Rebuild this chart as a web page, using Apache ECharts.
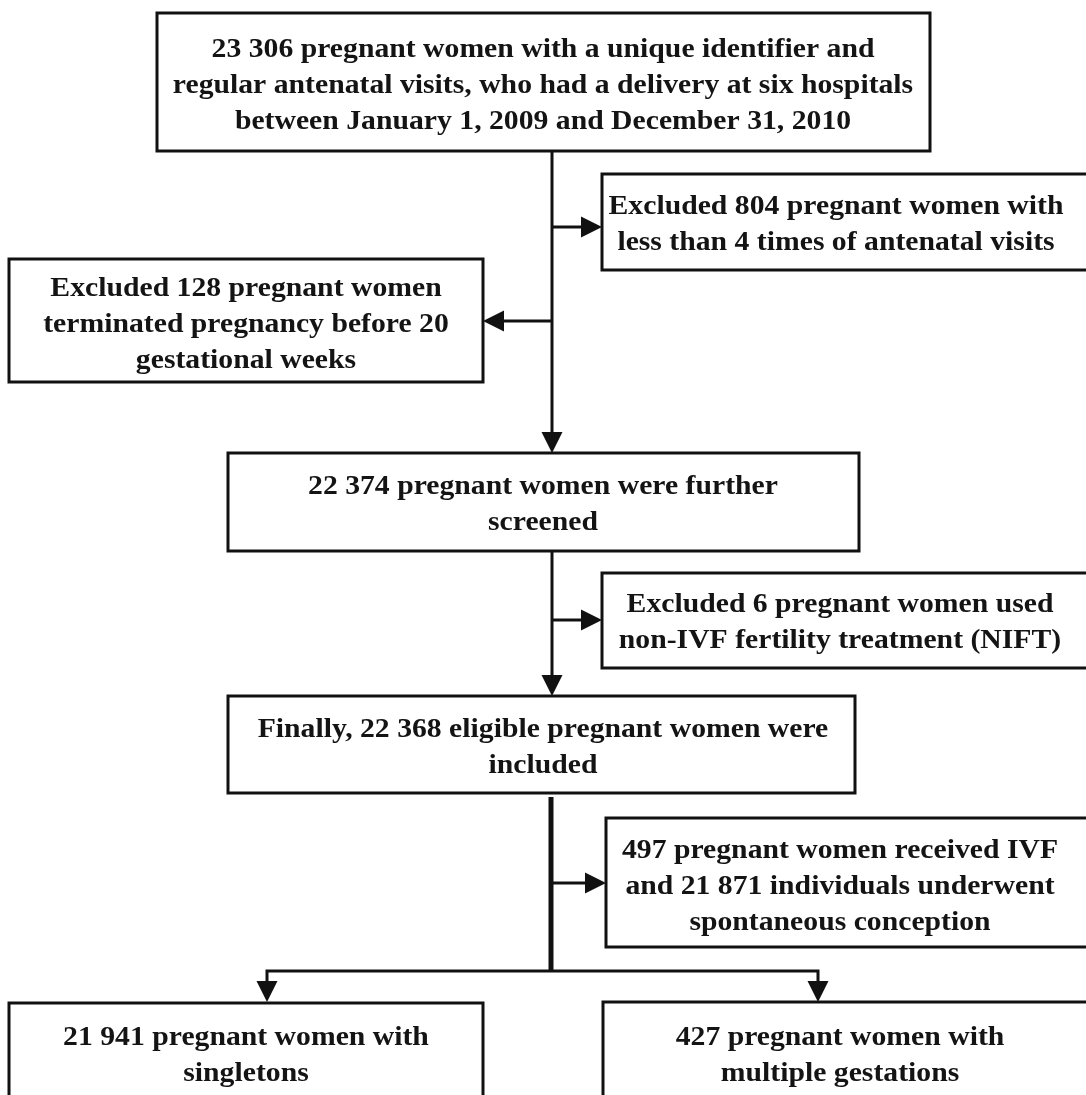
<!DOCTYPE html>
<html lang="en">
<head>
    <meta charset="UTF-8">
    <title>Flow chart</title>
    <script src="https://cdn.jsdelivr.net/npm/echarts@6/dist/echarts.min.js"></script>
    <style>
        html, body { margin: 0; padding: 0; background: #fff; }
        #container { width: 1086px; height: 1095px; }
    </style>
</head>
<body>
<div id="container"></div>
<script>
    // box texts
    var boxTexts = [
        '23 306 pregnant women with a unique identifier and\nregular antenatal visits, who had a delivery at six hospitals\nbetween January 1, 2009 and December 31, 2010',
        'Excluded 804 pregnant women with\nless than 4 times of antenatal visits',
        'Excluded 128 pregnant women\nterminated pregnancy before 20\ngestational weeks',
        '22 374 pregnant women were further\nscreened',
        'Excluded 6 pregnant women used\nnon-IVF fertility treatment (NIFT)',
        'Finally, 22 368 eligible pregnant women were\nincluded',
        '497 pregnant women received IVF\nand 21 871 individuals underwent\nspontaneous conception',
        '21 941 pregnant women with\nsingletons',
        '427 pregnant women with\nmultiple gestations'
    ];

    // layout: [x0, y0, x1, y1, textX, textY] in page pixels, same order as boxTexts
    var boxLayout = [
        [157, 13, 930, 151, 543, 86],
        [602, 174, 1092, 270, 836, 225],
        [9, 259, 483, 382, 246, 325],
        [228, 453, 859, 551, 543, 505],
        [602, 573, 1092, 668, 840, 623],
        [228, 696, 855, 793, 543, 748],
        [606, 818, 1092, 947, 840, 887],
        [9, 1003, 483, 1120, 246, 1056],
        [603, 1002, 1092, 1120, 840, 1056]
    ];

    // connectors: points, line width, arrow at end
    var links = [
        {pts: [[552, 151], [552, 453]], w: 3, arrow: true},
        {pts: [[552, 227], [602, 227]], w: 3, arrow: true},
        {pts: [[552, 321], [483, 321]], w: 3, arrow: true},
        {pts: [[552, 551], [552, 696]], w: 3, arrow: true},
        {pts: [[552, 620], [602, 620]], w: 3, arrow: true},
        {pts: [[551, 797], [551, 972]], w: 5, arrow: false},
        {pts: [[551, 883], [606, 883]], w: 3, arrow: true},
        {pts: [[552, 971], [267, 971], [267, 1002]], w: 3, arrow: true},
        {pts: [[552, 971], [818, 971], [818, 1002]], w: 3, arrow: true}
    ];

    var ink = '#111';
    var font = 'bold 27px "Liberation Serif", "Times New Roman", serif';

    var chart = echarts.init(document.getElementById('container'));

    function renderBox(params, api) {
        var b = boxLayout[params.dataIndex];
        var p0 = api.coord([b[0], b[1]]);
        var p1 = api.coord([b[2], b[3]]);
        var pt = api.coord([b[4], b[5]]);
        return {
            type: 'group',
            children: [{
                type: 'rect',
                shape: {x: p0[0], y: p0[1], width: p1[0] - p0[0], height: p1[1] - p0[1]},
                style: {fill: '#fff', stroke: ink, lineWidth: 3}
            }, {
                type: 'text',
                x: pt[0],
                y: pt[1],
                scaleX: 1.1,
                style: {
                    text: boxTexts[params.dataIndex],
                    font: font,
                    fill: '#141414',
                    align: 'center',
                    verticalAlign: 'middle',
                    lineHeight: 36
                }
            }]
        };
    }

    function renderLink(params, api) {
        var l = links[params.dataIndex];
        var pts = l.pts.map(function (p) { return api.coord(p); });
        var children = [];
        var n = pts.length;
        var tip = pts[n - 1];
        var prev = pts[n - 2];
        var dx = tip[0] - prev[0], dy = tip[1] - prev[1];
        var len = Math.sqrt(dx * dx + dy * dy);
        var ux = dx / len, uy = dy / len;
        var ah = 21, aw = 10.5;
        var linePts = pts.slice();
        if (l.arrow) {
            linePts[n - 1] = [tip[0] - ux * (ah - 2), tip[1] - uy * (ah - 2)];
        }
        children.push({
            type: 'polyline',
            shape: {points: linePts},
            style: {stroke: ink, lineWidth: l.w, fill: null}
        });
        if (l.arrow) {
            var bx = tip[0] - ux * ah, by = tip[1] - uy * ah;
            children.push({
                type: 'polygon',
                shape: {points: [tip, [bx - uy * aw, by + ux * aw], [bx + uy * aw, by - ux * aw]]},
                style: {fill: ink}
            });
        }
        return {type: 'group', children: children};
    }

    var option = {
        animation: false,
        backgroundColor: '#fff',
        grid: {left: 0, right: 0, top: 0, bottom: 0},
        xAxis: {type: 'value', min: 0, max: 1086, show: false},
        yAxis: {type: 'value', min: 0, max: 1095, inverse: true, show: false},
        series: [{
            type: 'custom',
            clip: false,
            renderItem: renderLink,
            data: links.map(function (l) { return [l.pts[0][0], l.pts[0][1]]; }),
            z: 1
        }, {
            type: 'custom',
            clip: false,
            renderItem: renderBox,
            data: boxLayout.map(function (b) { return [b[0], b[1]]; }),
            z: 2
        }]
    };
    chart.setOption(option);
</script>
</body>
</html>
